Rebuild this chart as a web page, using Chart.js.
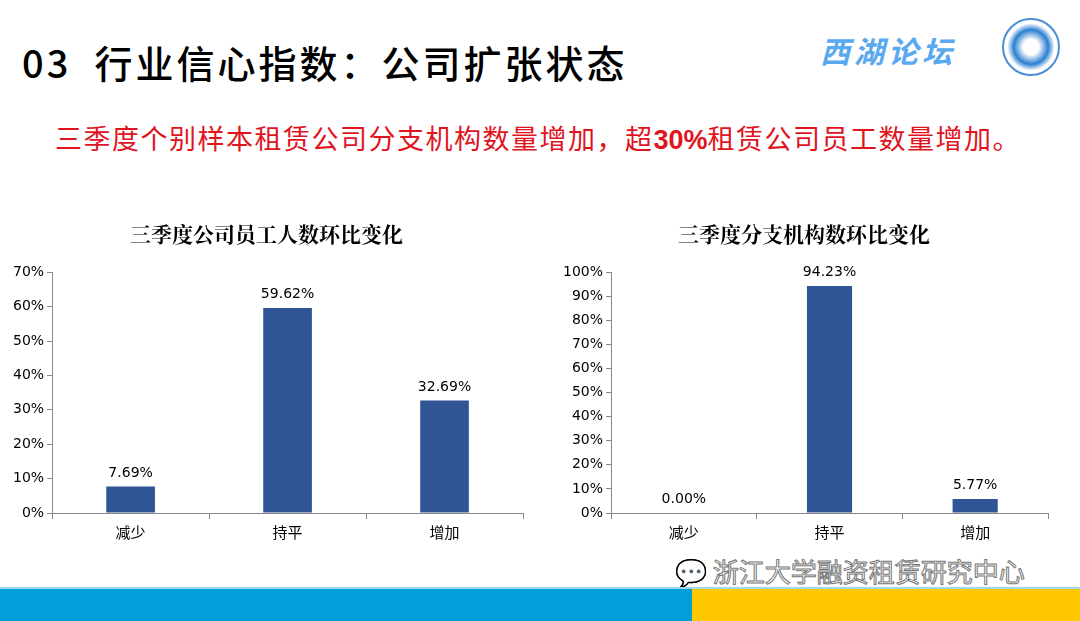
<!DOCTYPE html>
<html><head><meta charset="utf-8">
<script src="https://cdn.jsdelivr.net/npm/chart.js@4"></script>
<style>
body{margin:0;width:1080px;height:621px;position:relative;background:#fff;font-family:"Noto Sans CJK SC",sans-serif;overflow:hidden}
.abs{position:absolute}
</style></head><body>
<div class="abs" style="left:22px;top:34px;font-size:38px;color:#000;font-weight:500;letter-spacing:3px;white-space:nowrap">03&nbsp;&nbsp;行业信心指数：公司扩张状态</div>
<div class="abs" style="left:820px;top:28px;font-size:30px;color:#5aa9ef;font-weight:bold;letter-spacing:4px;font-style:italic">西湖论坛</div>
<div class="abs" style="left:1002px;top:18px;width:58px;height:58px;border-radius:50%;border:2px solid #4a8fd6;box-sizing:border-box;background:radial-gradient(circle,#fff 20%,#2a7fd0 45%,#fff 62%)"></div>
<div class="abs" style="left:55px;top:118px;font-size:27px;color:#e0141e;letter-spacing:1.5px;white-space:nowrap">三季度个别样本租赁公司分支机构数量增加，超<b style="font-family:Arial,sans-serif;letter-spacing:0">30%</b>租赁公司员工数量增加。</div>
<div class="abs" style="left:0;top:213px;width:540px;height:332px"><canvas id="c1"></canvas></div>
<div class="abs" style="left:555px;top:213px;width:510px;height:332px"><canvas id="c2"></canvas></div>
<div class="abs" style="left:675px;top:552px;font-size:26px;color:#fff;-webkit-text-stroke:1px #777;white-space:nowrap">💬 浙江大学融资租赁研究中心</div>
<div class="abs" style="left:0;top:587px;width:1080px;height:2px;background:#9fd7ee"></div>
<div class="abs" style="left:0;top:589px;width:692px;height:32px;background:#009fda"></div>
<div class="abs" style="left:692px;top:589px;width:388px;height:32px;background:#ffc800"></div>
<script>
const categories=["减少","持平","增加"];
const staffValues=[7.69,59.62,32.69];
const branchValues=[0.00,94.23,5.77];
const staffTitle="三季度公司员工人数环比变化";
const branchTitle="三季度分支机构数环比变化";
const labelPlugin={id:'lbl',afterDatasetsDraw(ch){const c=ch.ctx;const m=ch.getDatasetMeta(0);c.save();c.font='14px "DejaVu Sans",sans-serif';c.fillStyle='#000';c.textAlign='center';m.data.forEach((b,i)=>{c.fillText(ch.data.datasets[0].data[i].toFixed(2)+'%',b.x,b.y-10);});c.restore();}};
function mk(id,vals,title,max,padL){
new Chart(document.getElementById(id),{type:'bar',data:{labels:categories,datasets:[{data:vals,backgroundColor:'#2F5597',barPercentage:0.31,categoryPercentage:1}]},
options:{responsive:true,maintainAspectRatio:false,animation:false,
layout:{padding:{left:padL,right:17,top:0,bottom:0}},
plugins:{legend:{display:false},tooltip:{enabled:false},title:{display:true,text:title,color:'#000',font:{size:21,family:'"Noto Serif CJK SC","Noto Sans CJK SC",serif'},padding:{top:8,bottom:26}}},
scales:{x:{grid:{display:true,drawOnChartArea:false,offset:true,tickLength:6,color:'#888'},border:{color:'#888'},ticks:{color:'#000',font:{size:15,family:'"Noto Sans CJK SC"'},padding:4}},
y:{min:0,max:max,grid:{drawOnChartArea:false,tickLength:5,color:'#888'},border:{color:'#888'},ticks:{stepSize:10,color:'#000',font:{size:14,family:'"DejaVu Sans"'},callback:v=>v+'%'}}}},
plugins:[labelPlugin]});}
mk('c1',staffValues,staffTitle,70,10);
mk('c2',branchValues,branchTitle,100,5);
</script></body></html>
